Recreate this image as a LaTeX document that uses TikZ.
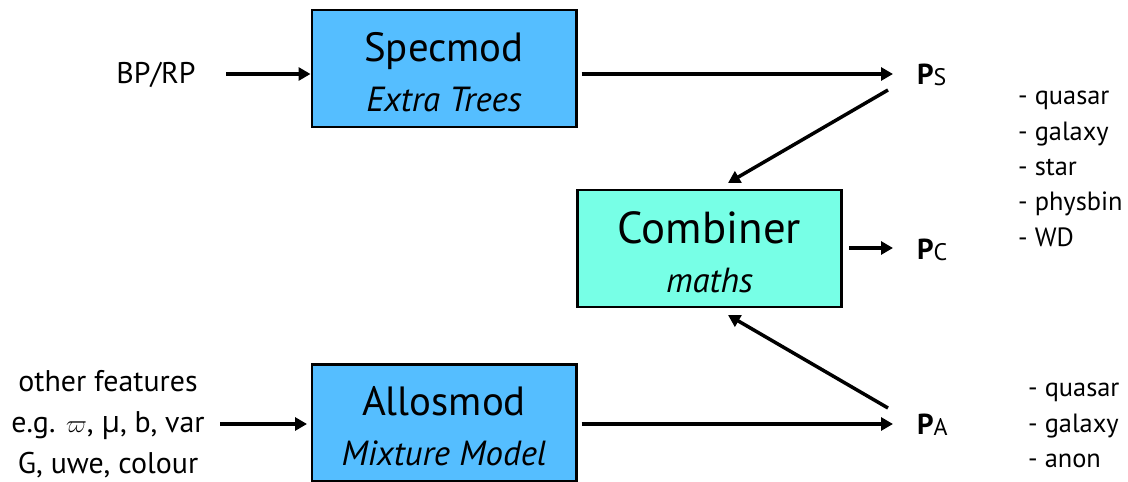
\documentclass[tikz,border=0pt]{standalone}
\usepackage{fontspec}
\setmainfont{PT Sans}
\newfontfamily\greekfont{Open Sans}
\usetikzlibrary{arrows.meta}
\definecolor{modblue}{RGB}{85,190,255}
\definecolor{combcyan}{RGB}{119,255,230}
\tikzset{
  modbox/.style={draw=black, line width=3pt, minimum width=264bp, minimum height=117bp,
    inner sep=0pt, align=center, font=\fontsize{41}{50}\selectfont},
  flow/.style={line width=3.5pt, -{Triangle[length=12bp,width=13bp]}},
  sidetext/.style={font=\fontsize{30}{41}\selectfont, align=center, inner sep=0pt},
  listtext/.style={font=\fontsize{26.5}{35.5}\selectfont, align=left, inner sep=0pt, anchor=north west},
  plabel/.style={font=\fontsize{29}{30}\selectfont, inner sep=0pt, anchor=west}
}
% italic second line of a box, with a strut on the first line to lower the block a little
\newcommand{\boxtitle}[1]{\rule{0pt}{0.88em}#1}
\newcommand{\subline}[1]{{\fontsize{35}{40}\selectfont\itshape #1}}
\newcommand{\prob}[1]{\textbf{P}\raisebox{-1bp}{\fontsize{24}{24}\selectfont #1}}
\begin{document}
\begin{tikzpicture}[x=1bp,y=-1bp]
  \useasboundingbox (0,0) rectangle (1128,482);

  % processing boxes
  \node[modbox, fill=modblue] (spec) at (444,68.5)
    {\boxtitle{Specmod}\\\subline{Extra Trees}};
  \node[modbox, fill=combcyan, font=\fontsize{45}{50}\selectfont] (comb) at (709.5,248.5)
    {\boxtitle{Combiner}\\\subline{maths}};
  \node[modbox, fill=modblue] (allo) at (444,423)
    {\boxtitle{Allosmod}\\\subline{Mixture Model}};

  % inputs
  \node[sidetext] (bprp) at (156,75) {BP/RP};
  \node[sidetext] (feat) at (108,424)
    {other features\\e.g. $\varpi$, {\greekfont μ}, b, var\\G, uwe, colour};

  % outputs
  \node[plabel] (ps) at (917,75) {\prob{S}};
  \node[plabel] (pc) at (917,250) {\prob{C}};
  \node[plabel] (pa) at (917,425) {\prob{A}};

  % class lists
  \node[listtext] (slist) at (1018,91)
    {- quasar\\- galaxy\\- star\\- physbin\\- WD};
  \node[listtext] (alist) at (1028,383)
    {- quasar\\- galaxy\\- anon};

  % end points of the diagonal connectors
  \coordinate (sfrom) at (888,90);
  \coordinate (afrom) at (888,408);
  \coordinate (sto) at (728,183);
  \coordinate (ato) at (728,315);

  % connectors
  \draw[flow] (226,74) -- (spec.west |- 0,74);
  \draw[flow] (spec.east |- 0,74) ++(4,0) -- (893,74);
  \draw[flow] (sfrom) -- (sto);
  \draw[flow] (afrom) -- (ato);
  \draw[flow] (comb.east |- 0,248) ++(6,0) -- (893,248);
  \draw[flow] (220,424) -- (307,424);
  \draw[flow] (allo.east |- 0,424) ++(4,0) -- (893,424);
\end{tikzpicture}
\end{document}
